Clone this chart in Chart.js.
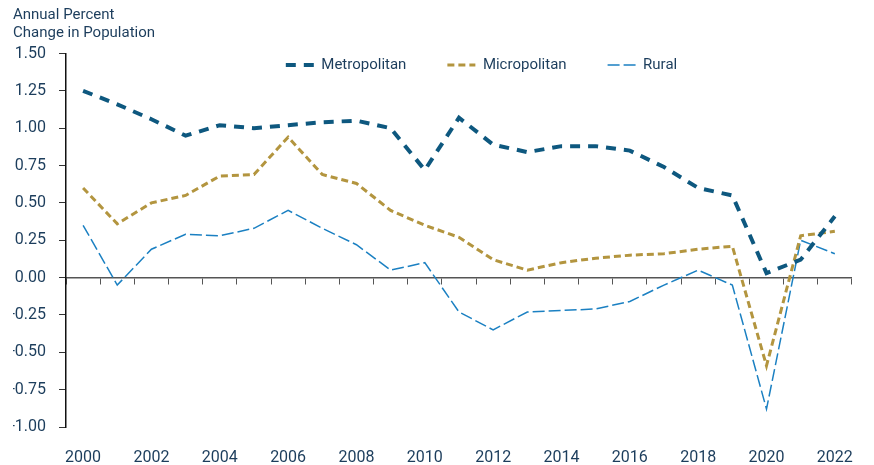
<!DOCTYPE html>
<html>
<head>
<meta charset="utf-8">
<script src="https://cdn.jsdelivr.net/npm/chart.js@4"></script>
<style>
  html, body { margin: 0; padding: 0; background: #fff; }
  #wrap { width: 874px; height: 465px; }
</style>
</head>
<body>
<div id="wrap"><canvas id="popChart" width="874" height="465"></canvas></div>
<script>
        // Données
        const years = ["2000", "2001", "2002", "2003", "2004", "2005", "2006", "2007", "2008", "2009", "2010",
            "2011", "2012", "2013", "2014", "2015", "2016", "2017", "2018", "2019", "2020", "2021", "2022"];
        const metropolitan = [1.25, 1.16, 1.06, 0.95, 1.02, 1.00, 1.02, 1.04, 1.05, 1.00, 0.72,
            1.07, 0.89, 0.84, 0.88, 0.88, 0.85, 0.74, 0.60, 0.55, 0.03, 0.12, 0.41];
        const micropolitan = [0.60, 0.36, 0.50, 0.55, 0.68, 0.69, 0.94, 0.69, 0.63, 0.45, 0.35,
            0.27, 0.12, 0.05, 0.10, 0.13, 0.15, 0.16, 0.19, 0.21, -0.59, 0.28, 0.31];
        const rural = [0.35, -0.05, 0.19, 0.29, 0.28, 0.33, 0.45, 0.33, 0.22, 0.05, 0.10,
            -0.23, -0.35, -0.23, -0.22, -0.21, -0.16, -0.05, 0.05, -0.05, -0.88, 0.25, 0.16];
        const yTickValues = [-1.00, -0.75, -0.50, -0.25, 0.00, 0.25, 0.50, 0.75, 1.00, 1.25, 1.50];

        const textColor = '#1c3d5c';
        const fontName = 'Roboto, "Noto Sans", sans-serif';

        // La légende ne prend presque pas de place en haut, puis on la descend dans la zone du graphique
        const nudgeLegend = {
            id: 'nudgeLegend',
            afterLayout(chart) {
                const lg = chart.legend;
                if (!lg) return;
                lg.top = chart.chartArea.top - 37;
                lg.bottom = lg.top + 80;
                lg.height = 80;
                lg.left += 42;
                lg.right += 42;
            }
        };

        const ctx = document.getElementById('popChart').getContext('2d');
        const popChart = new Chart(ctx, {
            type: 'line',
            data: {
                labels: years,
                datasets: [{
                    label: 'Metropolitan',
                    data: metropolitan,
                    borderColor: '#0e587f',
                    borderWidth: 4,
                    borderDash: [10, 8],
                    pointRadius: 0,
                    tension: 0
                }, {
                    label: 'Micropolitan',
                    data: micropolitan,
                    borderColor: '#b3953f',
                    borderWidth: 3,
                    borderDash: [7, 4],
                    pointRadius: 0,
                    tension: 0
                }, {
                    label: 'Rural',
                    data: rural,
                    borderColor: '#1b80c2',
                    borderWidth: 1.5,
                    borderDash: [12, 4],
                    pointRadius: 0,
                    tension: 0
                }]
            },
            options: {
                responsive: false,
                animation: false,
                layout: { padding: { left: 13, right: 8, top: 7, bottom: 0 } },
                plugins: {
                    title: {
                        display: true,
                        text: ['Annual Percent', 'Change in Population'],
                        align: 'start',
                        color: textColor,
                        font: { family: fontName, size: 15, weight: 'normal', lineHeight: 1.15 },
                        padding: { top: 0, bottom: 10 }
                    },
                    legend: {
                        position: 'top',
                        align: 'center',
                        maxHeight: 2,
                        labels: {
                            usePointStyle: true,
                            pointStyle: 'line',
                            pointStyleWidth: 28,
                            padding: 41,
                            color: textColor,
                            font: { family: fontName, size: 15 },
                            // reprendre le pointillé et l'épaisseur de chaque série
                            generateLabels: (chart) => {
                                const items = Chart.defaults.plugins.legend.labels.generateLabels(chart);
                                items.forEach(item => {
                                    const ds = chart.data.datasets[item.datasetIndex];
                                    item.lineDash = ds.borderDash;
                                    item.lineWidth = ds.borderWidth;
                                    item.strokeStyle = ds.borderColor;
                                });
                                return items;
                            }
                        }
                    },
                    tooltip: { enabled: false }
                },
                scales: {
                    x: {
                        type: 'category',
                        offset: true,
                        grid: { display: false, drawTicks: false },
                        border: { display: false },
                        ticks: {
                            autoSkip: false,
                            maxRotation: 0,
                            padding: 21,
                            color: textColor,
                            font: { family: fontName, size: 16 },
                            callback: (val, i) => (i % 2 === 0 ? years[i] : '')
                        },
                        afterFit: (scale) => { scale.height = 38; }
                    },
                    x2: {
                        type: 'category',
                        axis: 'x',
                        labels: years,
                        offset: true,
                        position: { y: 0 },
                        grid: { offset: true, drawOnChartArea: false, tickLength: 6, color: '#555' },
                        border: { color: '#555', width: 1.5 },
                        ticks: { display: false }
                    },
                    y: {
                        min: -1,
                        max: 1.5,
                        ticks: {
                            stepSize: 0.125,
                            padding: 13,
                            color: textColor,
                            font: { family: fontName, size: 16 },
                            callback: (v) => {
                                const hit = yTickValues.find(t => Math.abs(t - v) < 1e-6);
                                return hit === undefined ? '' : hit.toFixed(2);
                            }
                        },
                        grid: { drawOnChartArea: false, tickLength: 7, color: '#333' },
                        border: { color: '#111', width: 1.5 },
                        afterFit: (scale) => { scale.width = 53; }
                    }
                }
            },
            plugins: [nudgeLegend]
        });
</script>
</body>
</html>
